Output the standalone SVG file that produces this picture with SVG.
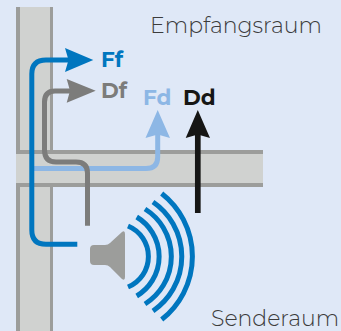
<svg xmlns="http://www.w3.org/2000/svg" width="341" height="331" viewBox="0 0 341 331">
<style>
.t{font-family:Montserrat,"Inter","Liberation Sans",sans-serif}
.l{font-size:22px;fill:#3c3c3c;font-weight:300}
.b{font-size:21.500px;font-weight:700}
.c{fill:none;stroke-linejoin:round}
.w{fill:#d0d2d0}
.e{fill:#9c9d9b}
</style>
<rect width="341" height="331" fill="#dfe8f7"/>
<g id="wall">
<rect class="w" x="16" y="7" width="37" height="324"/>
<rect class="w" x="18" y="150" width="245" height="37"/>
<rect class="e" x="16" y="7" width="4" height="147"/>
<rect class="e" x="50" y="7" width="3" height="147"/>
<rect class="e" x="16" y="150" width="247" height="4"/>
<rect class="e" x="16" y="183" width="247" height="4"/>
<rect class="e" x="16" y="183" width="4" height="148"/>
<rect class="e" x="50" y="183" width="3" height="148"/>
</g>
<g id="connectors">
<path class="c" d="M32 168.500H146Q157.700 168.500 157.700 157V132" stroke="#8db7e5" stroke-width="5"/>
<path d="M157.700 110L170 138L157.700 134.500L145.500 138Z" fill="#8db7e5"/>
<path class="c" d="M87.500 225.700V173Q87.500 162 76 162H56Q44.500 162 44.500 150V102Q44.500 91 55 91H74" stroke="#7c7c7b" stroke-width="5"/>
<path d="M95.700 90.700L66.700 102.700L70 90.700L66.700 79Z" fill="#7c7c7b"/>
<path class="c" d="M77.300 244.300H46Q31.800 244.300 31.800 230V74Q31.800 60 46 60H72" stroke="#0076bf" stroke-width="5"/>
<path d="M93.300 60L65 72L68.500 60L65 48Z" fill="#0076bf"/>
<path d="M197.800 213V132" stroke="#161615" stroke-width="5.700" fill="none"/>
<path d="M197.800 110L210 138L197.800 134.500L185.700 138Z" fill="#161615"/>
</g>
<g id="speaker">
<path d="M94 245H105Q108 245 110 243L122 232Q125 230 125 234V277Q125 281 122 279L110 267Q108 265 105 265H94Q90 265 90 261V249Q90 245 94 245Z" fill="#9c9d9b"/>
</g>
<g id="waves" fill="none" stroke="#0076bf" stroke-width="5">
<path d="M128 226A33 33 0 0 1 128 287"/>
<path d="M136.700 217A46 46 0 0 1 136.700 296"/>
<path d="M145 209A56 56 0 0 1 145 304"/>
<path d="M153 202A66 66 0 0 1 153 311"/>
<path d="M161.700 193.500A80 80 0 0 1 161.700 319.500"/>
</g>
<g id="labels">
<text class="t l" x="150" y="33">Empfangsraum</text>
<text class="t l" x="211" y="326">Senderaum</text>
<text class="t b" x="101" y="67" fill="#0076bf">Ff</text>
<text class="t b" x="101" y="98" fill="#7c7c7b">Df</text>
<text class="t b" x="143" y="105" fill="#8db7e5">Fd</text>
<text class="t b" x="183" y="105" fill="#161615">Dd</text>
</g>
</svg>
